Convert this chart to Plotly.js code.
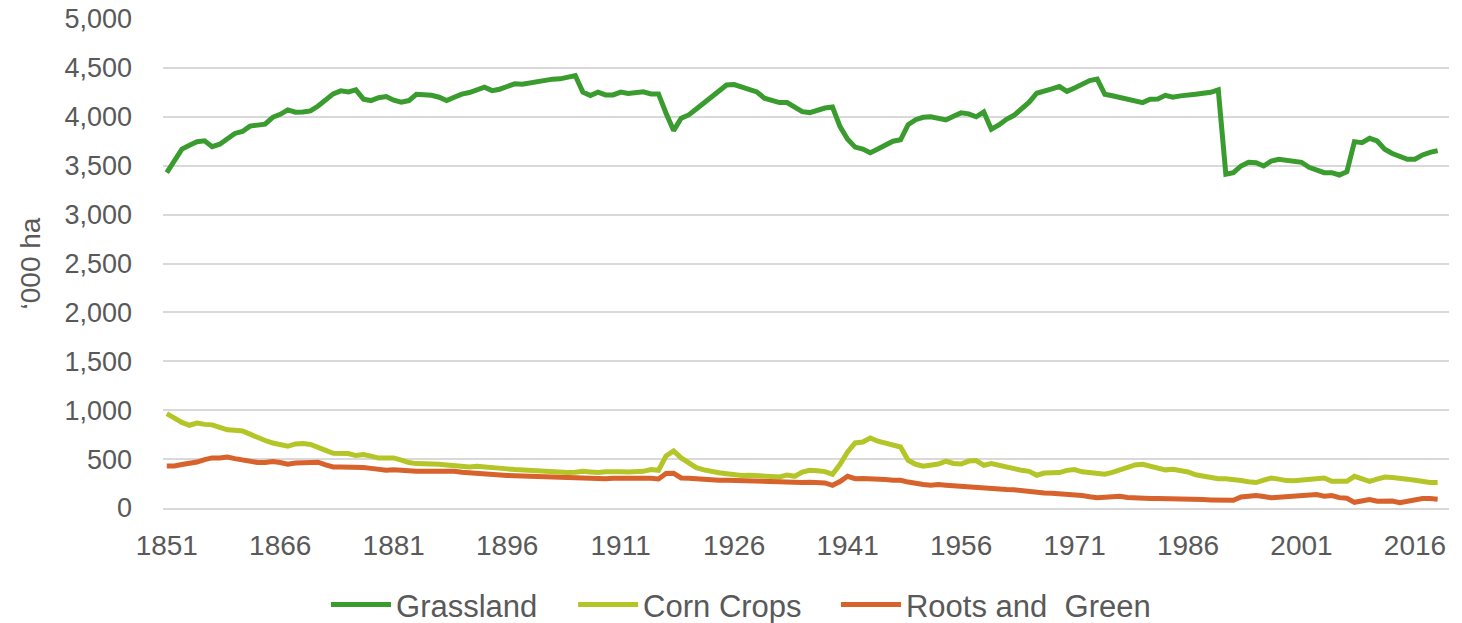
<!DOCTYPE html>
<html>
<head>
<meta charset="utf-8">
<script src="https://cdn.plot.ly/plotly-3.0.1.min.js"></script>
<style>html,body{margin:0;padding:0;background:#fff;}#chart{width:1462px;height:623px;}</style>
</head>
<body>
<div id="chart"></div>
<script>
const startYear = 1851;
const endYear = 2019;
const tickYears = [1851, 1866, 1881, 1896, 1911, 1926, 1941, 1956, 1971, 1986, 2001, 2016];
const yTicks = [0, 500, 1000, 1500, 2000, 2500, 3000, 3500, 4000, 4500, 5000];

const grassland = [
3430,3560,3670,3710,3745,3755,3695,3720,3780,3830,
3850,3905,3915,3925,3995,4025,4070,4047,4050,4060,
4110,4165,4234,4265,4255,4275,4180,4166,4195,4207,
4170,4150,4166,4230,4228,4220,4200,4166,4200,4232,
4248,4275,4303,4268,4282,4310,4337,4333,4347,4360,
4364,4385,4388,4405,4422,4252,4217,4252,4224,4224,
4252,4238,4245,4255,4234,4234,4037,3859,3985,4019,
4080,4140,4200,4260,4325,4330,4305,4280,4255,4190,
4165,4145,4145,4100,4053,4043,4070,4090,4100,3900,
3770,3690,3670,3633,3670,3710,3750,3765,3920,3970,
3995,4000,3990,3968,4005,4040,4030,4000,4050,3873,
3917,3975,4015,4080,4150,4241,4258,4285,4309,4260,
4295,4326,4370,4385,4230,4215,4200,4180,4160,4145,
4180,4183,4220,4200,4214,4217,4230,4240,4250,4275,
3412,3429,3497,3535,3531,3497,3548,3566,3555,3541,
3535,3484,3463,3429,3429,3405,3439,3746,3736,3780,
3753,3668,3625,3593,3566,3566,3610,3637,3654
];

const cornCrops = [
965,920,875,846,868,855,850,825,800,795,
788,755,720,690,665,650,631,655,660,650,
625,590,560,557,557,536,546,530,510,510,
512,490,465,454,455,454,447,440,434,425,
420,427,423,412,405,400,393,387,382,378,
373,370,365,362,365,375,368,362,370,375,
370,368,370,375,393,386,532,583,512,461,
413,390,372,360,350,340,332,335,330,322,
317,317,338,324,368,386,380,372,345,447,
573,665,675,716,683,660,635,624,488,447,
427,435,450,478,455,450,480,485,437,454,
435,415,396,385,375,335,358,365,362,385,
393,370,358,352,345,365,386,420,440,447,
430,410,390,396,385,368,340,325,315,300,
298,294,282,268,260,285,307,295,280,278,
283,300,305,307,273,273,273,324,298,273,
295,317,312,307,295,283,272,260,262
];

const rootsGreen = [
430,430,445,452,470,495,512,512,522,505,
490,468,465,466,476,465,447,460,465,475,
468,440,420,420,422,420,415,405,395,386,
392,383,376,375,375,375,378,379,375,365,
358,348,342,340,336,332,330,327,324,322,
320,318,315,312,311,308,303,298,300,305,
307,307,307,307,303,297,352,355,307,305,
297,293,290,285,283,280,278,276,272,266,
264,262,256,260,262,263,258,256,232,270,
324,300,302,302,300,292,285,283,265,249,
240,232,239,232,225,222,218,215,205,196,
188,188,186,175,164,158,154,150,147,142,
137,128,115,106,110,118,120,108,100,96,
96,96,96,94,93,92,89,86,83,80,
79,79,113,124,127,118,106,110,115,120,
125,130,137,120,127,106,100,58,70,86,
69,70,72,55,70,86,96,96,89
];

const years = [];
for (let y = startYear; y <= endYear; y++) years.push(y);

const seriesNames = ["Grassland", "Corn Crops", "Roots and\u00a0 Green"];
const seriesColors = ["#3a9b2e", "#b3c527", "#d7622c"];
const seriesData = [grassland, cornCrops, rootsGreen];
const legendIds = ["legend", "legend2", "legend3"];

const traces = seriesData.map((vals, i) => ({
  x: years,
  y: vals,
  type: "scatter",
  mode: "lines",
  name: seriesNames[i],
  legend: legendIds[i],
  line: {color: seriesColors[i], width: 5, shape: "linear"},
  hoverinfo: "x+y+name"
}));

function legendAt(xFrac) {
  return {
    orientation: "h",
    xref: "container", yref: "container",
    x: xFrac, xanchor: "left",
    y: 0.029, yanchor: "middle",
    font: {size: 31, color: "#595959"},
    itemwidth: 60,
    bgcolor: "rgba(0,0,0,0)"
  };
}

const layout = {
  width: 1462,
  height: 623,
  margin: {l: 163, r: 13, t: 19, b: 115, autoexpand: false},
  paper_bgcolor: "#ffffff",
  plot_bgcolor: "#ffffff",
  font: {family: "Liberation Sans, Arial, sans-serif", color: "#595959", size: 27},
  showlegend: true,
  legend: legendAt(0.223),
  legend2: legendAt(0.392),
  legend3: legendAt(0.5718),
  xaxis: {
    range: [1850.5, 2020.5],
    tickmode: "array",
    tickvals: tickYears,
    ticktext: tickYears.map(String),
    showgrid: false,
    zeroline: false,
    showline: true,
    linecolor: "#d9d9d9",
    linewidth: 1.5,
    ticks: "",
    ticklen: 0,
    ticklabelstandoff: 12,
    tickfont: {size: 28, color: "#595959"},
    automargin: false,
    fixedrange: true
  },
  yaxis: {
    range: [0, 5000],
    tickmode: "array",
    tickvals: yTicks,
    ticktext: yTicks.map(v => v.toLocaleString("en-US")),
    showgrid: true,
    gridcolor: "#d9d9d9",
    gridwidth: 1.5,
    zeroline: false,
    showline: false,
    ticks: "",
    ticklabelstandoff: 30,
    tickfont: {size: 27, color: "#595959"},
    title: {text: "\u2018000 ha", font: {size: 28, color: "#595959"}, standoff: 15},
    automargin: false,
    fixedrange: true
  }
};

Plotly.newPlot("chart", traces, layout, {displayModeBar: false});
</script>
</body>
</html>
